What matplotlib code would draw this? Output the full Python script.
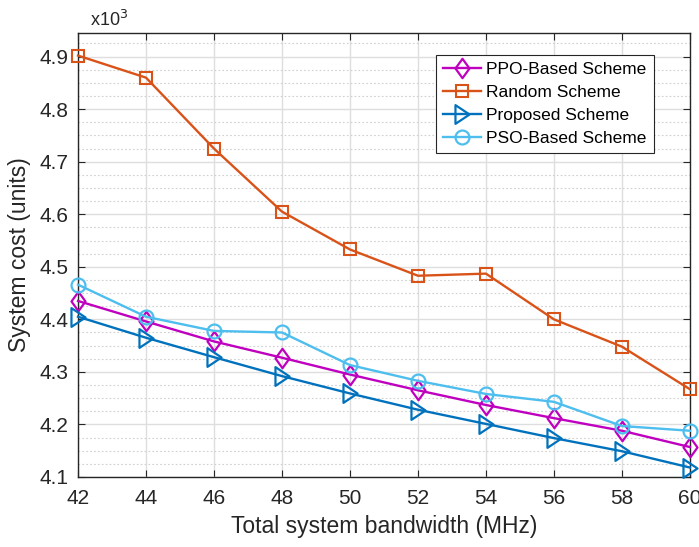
import matplotlib.pyplot as plt
import numpy as np
from matplotlib.ticker import MultipleLocator
from matplotlib.path import Path

plt.rcParams['font.family'] = ['Liberation Sans', 'DejaVu Sans']

bandwidth = [42, 44, 46, 48, 50, 52, 54, 56, 58, 60]
ppo = [4.435, 4.396, 4.358, 4.327, 4.295, 4.265, 4.237, 4.212, 4.188, 4.157]
rnd = [4.902, 4.860, 4.725, 4.605, 4.533, 4.483, 4.487, 4.400, 4.348, 4.267]
proposed = [4.405, 4.365, 4.328, 4.292, 4.259, 4.228, 4.201, 4.174, 4.149, 4.118]
pso = [4.466, 4.405, 4.378, 4.375, 4.313, 4.283, 4.258, 4.243, 4.197, 4.188]

# matlab-like tall diamond and triangle
diamond = Path([(0, 1), (0.72, 0), (0, -1), (-0.72, 0), (0, 1)], closed=True)
tri = Path([(-0.75, 1), (0.75, 0), (-0.75, -1), (-0.75, 1)], closed=True)

fig = plt.figure(figsize=(6.99, 5.47), dpi=100)
ax = fig.add_axes([0.1116, 0.128, 0.8754, 0.8117])

ax.plot(bandwidth, ppo, color='#BF00BF', marker=diamond, ms=14, mfc='none', mew=1.6, lw=1.7,
        label='PPO-Based Scheme', clip_on=False, zorder=3)
ax.plot(bandwidth, rnd, color='#D95319', marker='s', ms=8.5, mfc='none', mew=1.5, lw=1.7,
        label='Random Scheme', clip_on=False, zorder=3)
ax.plot(bandwidth, proposed, color='#0072BD', marker=tri, ms=13.5, mfc='none', mew=1.6, lw=1.7,
        label='Proposed Scheme', clip_on=False, zorder=3)
ax.plot(bandwidth, pso, color='#4DBEEE', marker='o', ms=10, mfc='none', mew=1.6, lw=1.7,
        label='PSO-Based Scheme', clip_on=False, zorder=3)

ax.set_xlim(42, 60)
ax.set_ylim(4.1, 4.945)
ax.set_xticks(bandwidth)
yt = np.arange(4.1, 4.95, 0.1)
ax.set_yticks(yt)
ax.set_yticklabels(['%.1f' % v for v in yt])
ax.yaxis.set_minor_locator(MultipleLocator(0.025))

ax.grid(which='major', color='#dedede', lw=1)
ax.grid(which='minor', axis='y', color='#d0d0d0', lw=0.8, linestyle=(0, (1.5, 2)))
ax.set_axisbelow(True)

ax.tick_params(which='both', direction='in', top=True, right=True, labelsize=15,
               colors='#262626', length=5)
ax.tick_params(axis='x', pad=9)
ax.tick_params(axis='y', pad=7)
ax.tick_params(which='minor', length=0)
for s in ax.spines.values():
    s.set_color('#262626')
    s.set_linewidth(1)

ax.set_xlabel('Total system bandwidth (MHz)', fontsize=16.5, color='#262626', labelpad=5)
ax.set_ylabel('System cost (units)', fontsize=16.5, color='#262626', labelpad=6)
ax.text(0.02, 1.015, r'x10$^3$', transform=ax.transAxes, fontsize=13, color='#262626')

leg = ax.legend(loc='upper right', bbox_to_anchor=(0.955, 0.97), fontsize=12.5,
                fancybox=False, framealpha=1, edgecolor='#262626',
                handlelength=2.2, borderpad=0.4, labelspacing=0.45, handletextpad=0.3)
leg.get_frame().set_linewidth(0.8)

fig.savefig('out.png')
